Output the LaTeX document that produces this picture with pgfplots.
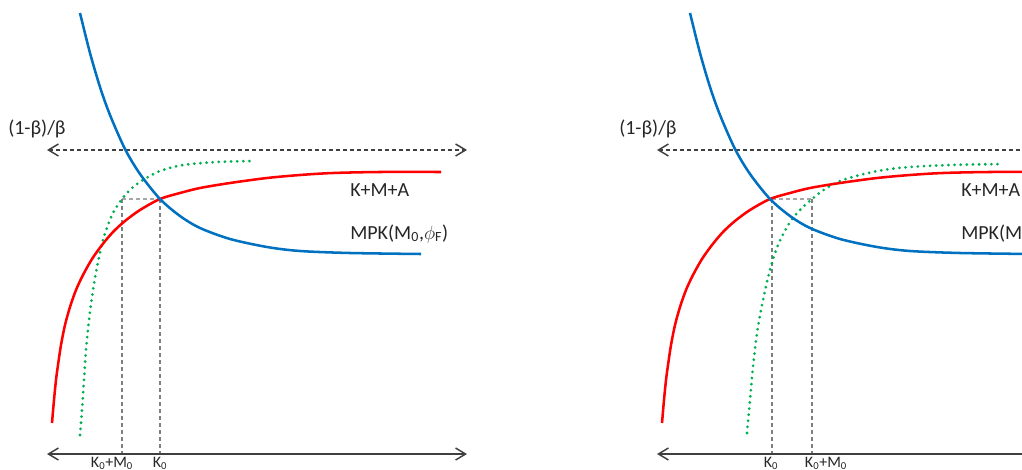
\documentclass[border=0pt]{standalone}
\usepackage{pgfplots}
\pgfplotsset{compat=1.18}
\usepackage{pgfplotstable}
\usetikzlibrary{arrows.meta}
\usepackage{fontspec}
\setmainfont{Carlito}
\definecolor{cblue}{HTML}{0070C0}
\definecolor{cred}{HTML}{FF0000}
\definecolor{cgreen}{HTML}{00B050}
\definecolor{carrow}{HTML}{404040}
\definecolor{cguide}{HTML}{7F7F7F}
\definecolor{cguideh}{HTML}{A6A6A6}
\definecolor{ctext}{HTML}{262626}

\pgfplotstableread{
x y
80 13
90 53
100 87
110 115
125 149
140 174
160 199
180 216
200 228
230 239
267 247
300 251
350 253
421 254
}\bluecurve

\pgfplotstableread{
x y
52 423
54 400
56 380
58 365
61 345
65 325
70 307
76 290
83 275
92 259
102 245
113 232
125 221
140 210
160 199
180 193
200 188
230 183
267 178
300 175
333 173
380 172
441 172
}\redcurve

\pgfplotstableread{
x y
80 435
82 410
84 380
86 350
89 320
93 290
97 267
103 240
112 215
122 199
132 188
143 180
160 171
183 165
217 162
253 161
}\greenleft

\pgfplotstableread{
x y
747 433
750 400
753 367
757 333
763 300
770 270
778 245
790 222
800 210
812 199
825 189
840 181
860 175
883 170
910 167
950 165
1002 164
}\greenright

\tikzset{
  dbarb/.style={{Straight Barb[length=7.5pt,width=9pt]}-{Straight Barb[length=7.5pt,width=9pt]}},
}

\begin{document}
\begin{tikzpicture}
\begin{axis}[
  scale only axis,
  width=766.5pt, height=352.5pt,
  xmin=0, xmax=1022, ymin=0, ymax=470,
  y dir=reverse,
  hide axis,
  clip=true,
]
% guides left
\addplot[cguideh, line width=0.8pt, dash pattern=on 3pt off 2.25pt] coordinates {(122,199) (160,199)};
\addplot[cguide, line width=0.8pt, dash pattern=on 3pt off 2.25pt] coordinates {(122,199) (122,454)};
\addplot[cguide, line width=0.8pt, dash pattern=on 3pt off 2.25pt] coordinates {(160,199) (160,454)};
% guides right
\addplot[cguideh, line width=0.8pt, dash pattern=on 3pt off 2.25pt] coordinates {(772,199) (812,199)};
\addplot[cguide, line width=0.8pt, dash pattern=on 3pt off 2.25pt] coordinates {(772,199) (772,454)};
\addplot[cguide, line width=0.8pt, dash pattern=on 3pt off 2.25pt] coordinates {(812,199) (812,454)};
% arrows left
\addplot[carrow, line width=1.1pt, dash pattern=on 3pt off 2.25pt, dbarb] coordinates {(47,150) (467,150)};
\addplot[carrow, line width=1.1pt, dbarb] coordinates {(47,454) (467,454)};
% arrows right
\addplot[carrow, line width=1.1pt, dash pattern=on 3pt off 2.25pt, dbarb] coordinates {(657,150) (1077,150)};
\addplot[carrow, line width=1.1pt, dbarb] coordinates {(657,454) (1077,454)};
% curves left
\addplot[cgreen, line width=2.3pt, line cap=round, dash pattern=on 0pt off 4.6pt, smooth] table[x=x,y=y] {\greenleft};
\addplot[cred, line width=1.9pt, smooth] table[x=x,y=y] {\redcurve};
\addplot[cblue, line width=1.9pt, smooth] table[x=x,y=y] {\bluecurve};
% curves right
\addplot[cgreen, line width=2.3pt, line cap=round, dash pattern=on 0pt off 4.6pt, smooth] table[x=x,y=y] {\greenright};
\addplot[cred, line width=1.9pt, smooth] table[x expr=\thisrow{x}+610,y=y] {\redcurve};
\addplot[cblue, line width=1.9pt, smooth] table[x expr=\thisrow{x}+610,y=y] {\bluecurve};
% labels
\node[anchor=base west, inner sep=0pt, text=ctext, font=\fontsize{15}{17}\selectfont] at (axis cs:8,135) {(1-β)/β};
\node[anchor=base west, inner sep=0pt, text=ctext, font=\fontsize{15}{17}\selectfont] at (axis cs:619,135) {(1-β)/β};
\node[anchor=base west, inner sep=0pt, text=ctext, font=\fontsize{15}{17}\selectfont] at (axis cs:350,196) {K+M+A};
\node[anchor=base west, inner sep=0pt, text=ctext, font=\fontsize{15}{17}\selectfont] at (axis cs:961,196) {K+M+A};
\node[anchor=base west, inner sep=0pt, text=ctext, font=\fontsize{15}{17}\selectfont] at (axis cs:350,239) {MPK(M\textsubscript{0},$\phi$\textsubscript{F})};
\node[anchor=base west, inner sep=0pt, text=ctext, font=\fontsize{15}{17}\selectfont] at (axis cs:961,239) {MPK(M\textsubscript{0},$\phi$\textsubscript{F})};
\node[anchor=base, inner sep=0pt, text=ctext, font=\fontsize{12}{13}\selectfont] at (axis cs:112,467) {K\textsubscript{0}+M\textsubscript{0}};
\node[anchor=base, inner sep=0pt, text=ctext, font=\fontsize{12}{13}\selectfont] at (axis cs:160,467) {K\textsubscript{0}};
\node[anchor=base, inner sep=0pt, text=ctext, font=\fontsize{12}{13}\selectfont] at (axis cs:771,467) {K\textsubscript{0}};
\node[anchor=base, inner sep=0pt, text=ctext, font=\fontsize{12}{13}\selectfont] at (axis cs:826,467) {K\textsubscript{0}+M\textsubscript{0}};
\end{axis}
\pgfresetboundingbox
\path[use as bounding box] (current axis.south west) rectangle (current axis.north east);
\end{tikzpicture}
\end{document}
